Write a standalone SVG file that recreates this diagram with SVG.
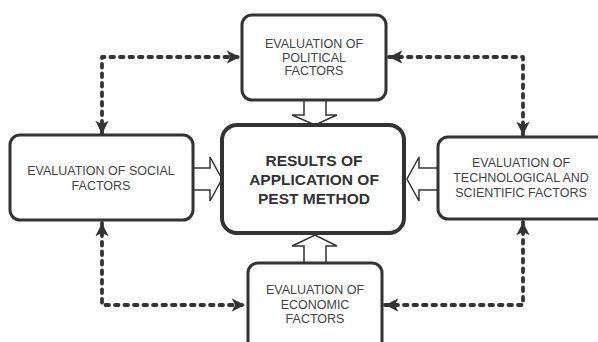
<svg xmlns="http://www.w3.org/2000/svg" width="598" height="342" viewBox="0 0 598 342">
<style>
.box{fill:#fff;stroke:#333;stroke-width:3}
.main{fill:#fff;stroke:#333;stroke-width:4}
.t{font-family:"Liberation Sans",Arial,sans-serif;font-size:12.5px;fill:#444;text-anchor:middle}
.tb{font-family:"Liberation Sans",Arial,sans-serif;font-size:15.5px;font-weight:bold;fill:#333;text-anchor:middle}
.dot{fill:none;stroke:#333;stroke-width:3.8;stroke-dasharray:3.5 6;stroke-linecap:round;stroke-linejoin:round}
.hol{fill:#fff;stroke:#333;stroke-width:1.5;stroke-linejoin:miter}
</style>
<defs>
<marker id="ah" viewBox="0 0 10 10" refX="10" refY="5" markerWidth="3.5" markerHeight="3.5" orient="auto-start-reverse" markerUnits="strokeWidth">
<path d="M0,0 L10,5 L0,10 L2.5,5 Z" fill="#333"/>
</marker>
</defs>
<g id="connectors">
<path class="dot" d="M102,134 V57 H240" marker-start="url(#ah)" marker-end="url(#ah)"/>
<path class="dot" d="M389,57 H523 V135" marker-start="url(#ah)" marker-end="url(#ah)"/>
<path class="dot" d="M102,223 V305 H245" marker-start="url(#ah)" marker-end="url(#ah)"/>
<path class="dot" d="M385,305 H523 V222" marker-end="url(#ah)" marker-start="url(#ah)"/>
</g>
<g id="hollow-arrows">
<path class="hol" d="M304,100 V115 H292 L315,125 L337,115 H326 V100"/>
<path class="hol" d="M304,263 V246 H292 L315,235 L337,246 H326 V263"/>
<path class="hol" d="M193,168 H210 V157 L222,179 L210,201 V190 H193"/>
<path class="hol" d="M438,168 H419 V157 L407,179 L419,201 V190 H438"/>
</g>
<g id="node-political">
<rect class="box" x="242" y="15" width="144" height="85" rx="10"/>
<text class="t" x="314" y="48">EVALUATION OF</text>
<text class="t" x="314" y="61.5">POLITICAL</text>
<text class="t" x="314" y="75">FACTORS</text>
</g>
<g id="node-social">
<rect class="box" x="10" y="135" width="183" height="85" rx="10"/>
<text class="t" x="101" y="175">EVALUATION OF SOCIAL</text>
<text class="t" x="101" y="190">FACTORS</text>
</g>
<g id="node-tech">
<rect class="box" x="438" y="137" width="170" height="82" rx="10"/>
<text class="t" x="521" y="167">EVALUATION OF</text>
<text class="t" x="521" y="182">TECHNOLOGICAL AND</text>
<text class="t" x="521" y="197">SCIENTIFIC FACTORS</text>
</g>
<g id="node-economic">
<rect class="box" x="248" y="263" width="134" height="90" rx="10"/>
<text class="t" x="315" y="294">EVALUATION OF</text>
<text class="t" x="315" y="308.5">ECONOMIC</text>
<text class="t" x="315" y="323">FACTORS</text>
</g>
<g id="node-results">
<rect class="main" x="222" y="125" width="182" height="108" rx="15"/>
<text class="tb" x="314" y="166">RESULTS OF</text>
<text class="tb" x="314" y="185">APPLICATION OF</text>
<text class="tb" x="314" y="204">PEST METHOD</text>
</g>
</svg>
